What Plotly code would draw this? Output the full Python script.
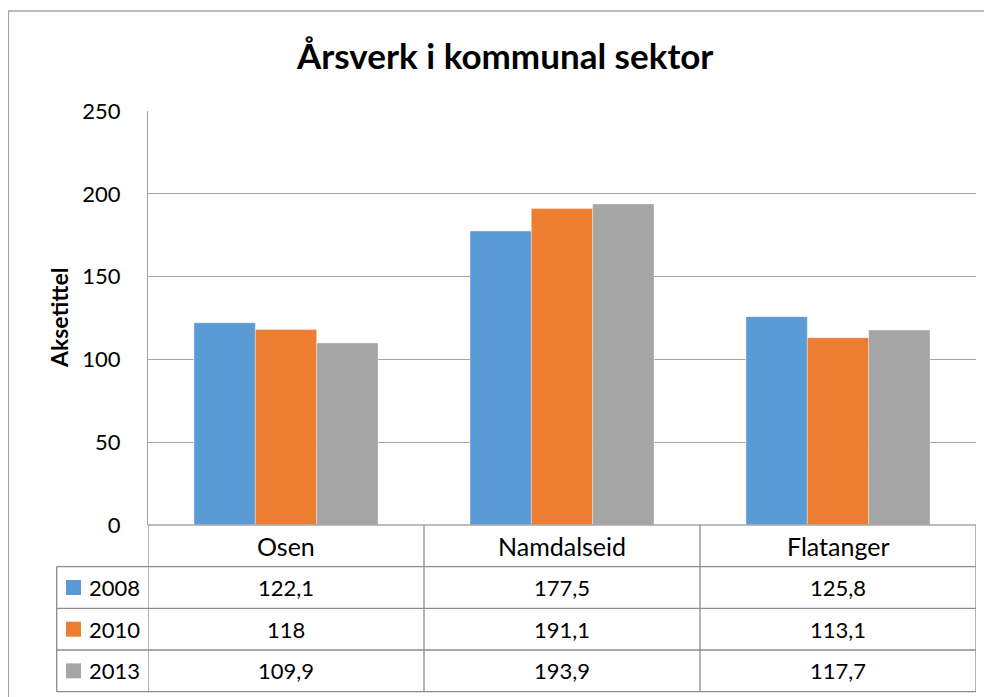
import plotly.graph_objects as go

categories = ["Osen", "Namdalseid", "Flatanger"]
series_names = ["2008", "2010", "2013"]
values_2008 = [122.1, 177.5, 125.8]
values_2010 = [118.0, 191.1, 113.1]
values_2013 = [109.9, 193.9, 117.7]
value_labels_2008 = ["122,1", "177,5", "125,8"]
value_labels_2010 = ["118", "191,1", "113,1"]
value_labels_2013 = ["109,9", "193,9", "117,7"]
y_ticks = [0, 50, 100, 150, 200, 250]
title_text = "Årsverk i kommunal sektor"
y_title = "Aksetittel"

colors = ["#5B9BD5", "#ED7D31", "#A5A5A5"]
FONT = "Lato"

# page body has an 8px margin; work in reference-screen pixels and shift
OFF = 8
W, H = 992 - OFF, 697 - OFF
PLOT_L, PLOT_R, PLOT_T, PLOT_B = 148, 976, 111, 525  # screen px
L = PLOT_L - OFF
T = PLOT_T - OFF
R = W - (PLOT_R - OFF)
B = H - (PLOT_B - OFF)
PW, PH = PLOT_R - PLOT_L, PLOT_B - PLOT_T


def px_x(p):
    return (p - PLOT_L) / PW


def px_y(p):
    return (PLOT_B - p) / PH


fig = go.Figure()
all_vals = [values_2008, values_2010, values_2013]
all_labels = [value_labels_2008, value_labels_2010, value_labels_2013]
for name, vals, col in zip(series_names, all_vals, colors):
    fig.add_trace(go.Bar(
        x=categories, y=vals, name=name,
        marker=dict(color=col, line=dict(color="rgba(255,255,255,0.6)", width=0.6)),
        hoverinfo="skip",
    ))

fig.update_layout(
    width=W, height=H,
    margin=dict(l=L, r=R, t=T, b=B, autoexpand=False),
    paper_bgcolor="white", plot_bgcolor="white",
    barmode="group", bargap=1/3, bargroupgap=0,
    showlegend=False,
    font=dict(family=FONT, color="#000000", size=22),
)
fig.update_xaxes(
    type="category", showticklabels=False, showgrid=False, zeroline=False,
    showline=False, ticks="", range=[-0.5, len(categories) - 0.5],
)
fig.update_yaxes(
    range=[0, 250], tickvals=y_ticks, ticktext=[str(v) for v in y_ticks],
    showgrid=True, gridcolor="#A6A6A6", gridwidth=1,
    zeroline=False, showline=True, linecolor="#A6A6A6", linewidth=1,
    ticks="", ticklabelstandoff=22,
    tickfont=dict(family=FONT, size=22, color="#000000"),
)

shapes = []
line_col = "#8C8C8C"
row_h = 41.67 / PH
# outer chart border
shapes.append(dict(type="rect", xref="paper", yref="paper",
                   x0=px_x(8.5), x1=px_x(1010), y0=px_y(720), y1=px_y(11),
                   line=dict(color="#A6A6A6", width=1.3), fillcolor="rgba(0,0,0,0)", layer="below"))
# zero/axis baseline
shapes.append(dict(type="line", xref="paper", yref="paper", x0=0, x1=1, y0=0, y1=0,
                   line=dict(color="#A6A6A6", width=1.3)))
# horizontal table lines
for i in range(1, 5):
    yy = -row_h * i
    shapes.append(dict(type="line", xref="paper", yref="paper",
                       x0=px_x(56.7), x1=1, y0=yy, y1=yy,
                       line=dict(color=line_col, width=1.3)))
# vertical lines at category boundaries
n = len(categories)
for k in range(n + 1):
    xb = k - 0.5
    shapes.append(dict(type="line", xref="x", yref="paper", x0=xb, x1=xb,
                       y0=0, y1=-row_h * 4, line=dict(color=line_col, width=1.3)))
# left edge of legend column
shapes.append(dict(type="line", xref="paper", yref="paper", x0=px_x(56.7), x1=px_x(56.7),
                   y0=-row_h, y1=-row_h * 4, line=dict(color=line_col, width=1.3)))
# legend keys
for i, col in enumerate(colors):
    yc = -row_h * (i + 1.5)
    half = 7.5 / PH
    shapes.append(dict(type="rect", xref="paper", yref="paper",
                       x0=px_x(66), x1=px_x(81), y0=yc - half, y1=yc + half,
                       fillcolor=col, line=dict(width=0)))

annotations = []
annotations.append(dict(text=f"<b>{title_text}</b>", xref="paper", yref="paper",
                        x=px_x(504), y=px_y(55), showarrow=False,
                        font=dict(family=FONT, size=35, color="#000000"),
                        xanchor="center", yanchor="middle"))
annotations.append(dict(text=f"<b>{y_title}</b>", xref="paper", yref="paper",
                        x=px_x(59), y=0.5, showarrow=False, textangle=-90,
                        font=dict(family=FONT, size=23, color="#000000"),
                        xanchor="center", yanchor="middle"))
for c in categories:
    annotations.append(dict(text=c, xref="x", yref="paper", x=c, y=-row_h * 0.5,
                            showarrow=False, xanchor="center", yanchor="middle",
                            font=dict(family=FONT, size=25, color="#000000")))
for i, (name, labels) in enumerate(zip(series_names, all_labels)):
    yc = -row_h * (i + 1.5)
    annotations.append(dict(text=name, xref="paper", yref="paper", x=px_x(87), y=yc,
                            showarrow=False, xanchor="left", yanchor="middle",
                            font=dict(family=FONT, size=22, color="#000000")))
    for c, lab in zip(categories, labels):
        annotations.append(dict(text=lab, xref="x", yref="paper", x=c, y=yc,
                                showarrow=False, xanchor="center", yanchor="middle",
                                font=dict(family=FONT, size=22, color="#000000")))

fig.update_layout(shapes=shapes, annotations=annotations)
fig.write_html("out.html")
